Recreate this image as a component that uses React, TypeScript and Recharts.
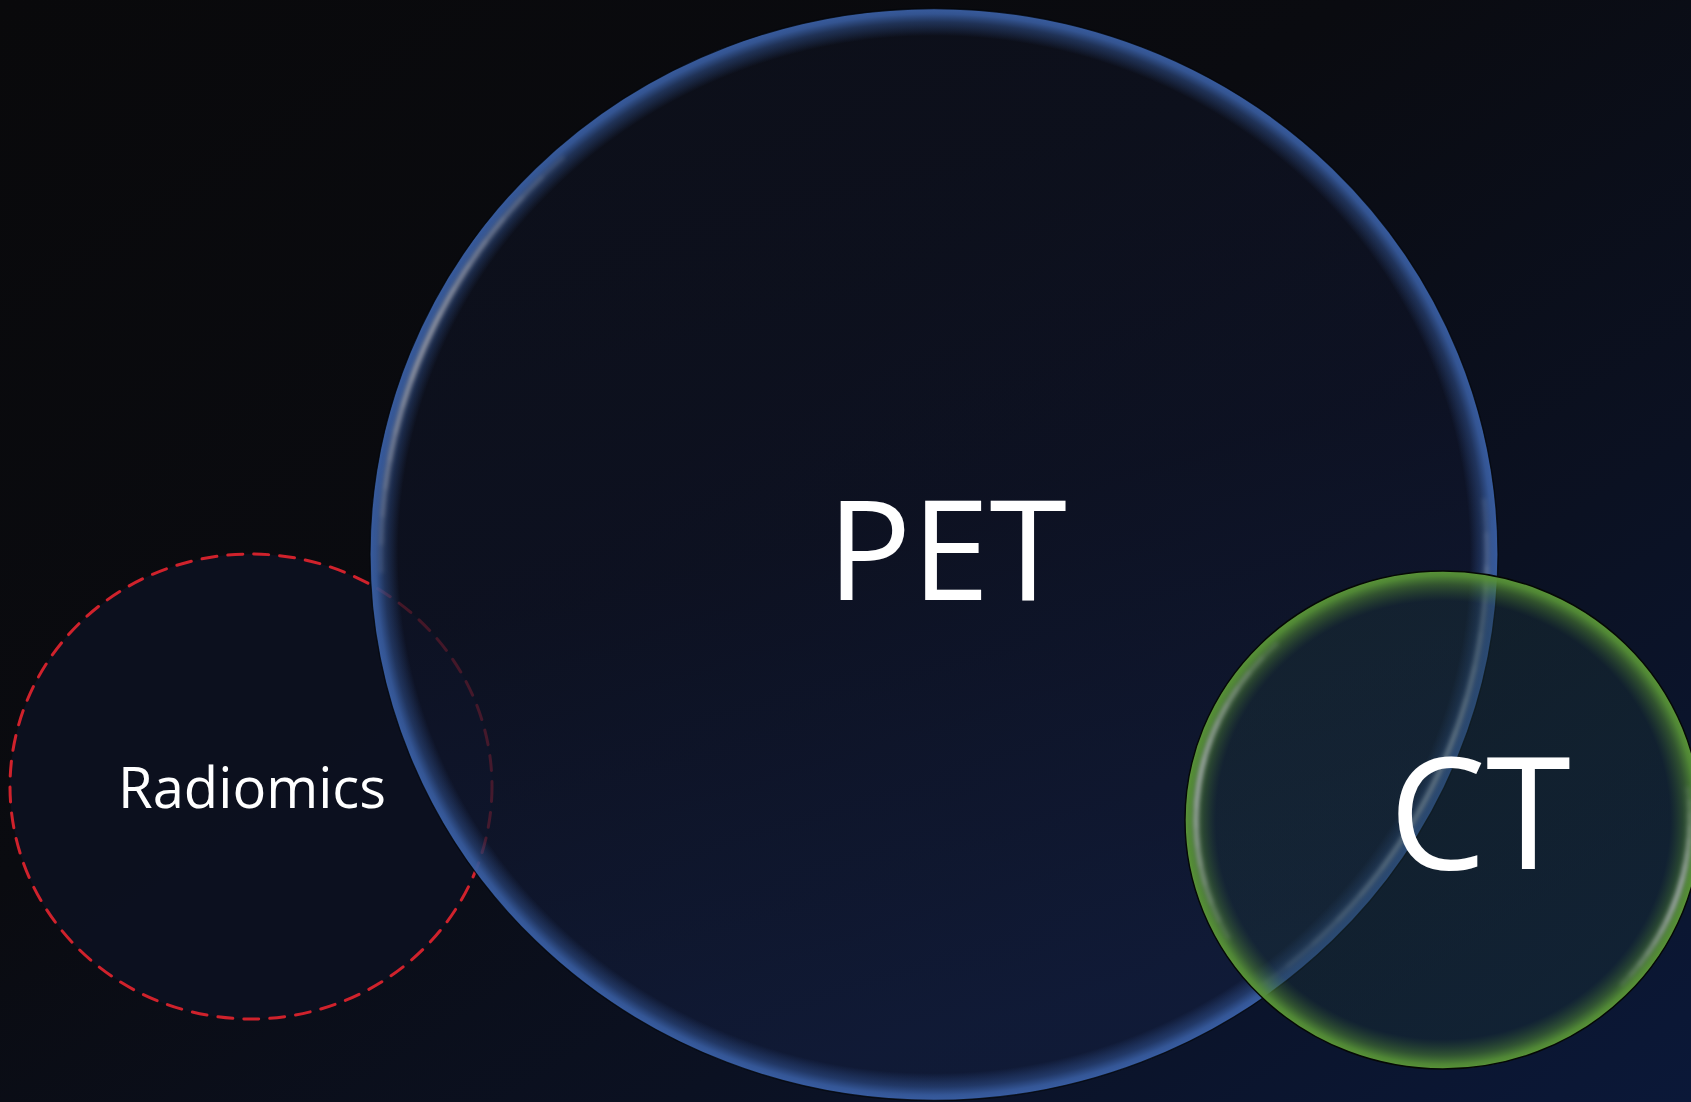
import React from 'react';
import { ComposedChart, Scatter, XAxis, YAxis } from 'recharts';

// ---- data (in chart units: x 0..1691, y 0..1102, y downward) ----
const X_DOMAIN: [number, number] = [0, 1691];
const Y_DOMAIN: [number, number] = [0, 1102];

const radiomicsSet = [{ name: 'Radiomics', x: 251, y: 786.5, rx: 241, ry: 232.5 }];
const petSet = [{ name: 'PET', x: 934, y: 554.5, rx: 564, ry: 546 }];
const ctSet = [{ name: 'CT', x: 1443, y: 820, rx: 258, ry: 249 }];

const setLabels = [
  { name: 'PET', x: 947, y: 600 },
  { name: 'Radiomics', x: 252, y: 808 },
  { name: 'CT', x: 1480, y: 869 },
];

// ---- layout / style ----
const W = 1691;
const H = 1102;
const SX = W / (X_DOMAIN[1] - X_DOMAIN[0]);
const SY = H / (Y_DOMAIN[1] - Y_DOMAIN[0]);
const FONT = '"Open Sans", "Noto Sans", sans-serif';

const labelStyle: Record<string, { fontSize: number; length: number }> = {
  PET: { fontSize: 140, length: 240 },
  Radiomics: { fontSize: 56, length: 268 },
  CT: { fontSize: 155, length: 182 },
};

const arcPath = (cx: number, cy: number, a: number, b: number, t1: number, t2: number) => {
  const r = Math.PI / 180;
  const x1 = cx + a * Math.cos(t1 * r);
  const y1 = cy + b * Math.sin(t1 * r);
  const x2 = cx + a * Math.cos(t2 * r);
  const y2 = cy + b * Math.sin(t2 * r);
  const large = Math.abs(t2 - t1) > 180 ? 1 : 0;
  return `M${x1},${y1} A${a},${b} 0 ${large} 1 ${x2},${y2}`;
};

const HL_LAYERS = [1, 0.88, 0.76, 0.64, 0.52, 0.4, 0.28, 0.16];

const Highlight = ({ cx, cy, a, b, t1, t2, color, width, op }: any) => {
  const mid = (t1 + t2) / 2;
  const half = (t2 - t1) / 2;
  return (
    <g filter="url(#hlBlur)">
      {HL_LAYERS.map((f, i) => (
        <path
          key={i}
          d={arcPath(cx, cy, a, b, mid - half * f, mid + half * f)}
          fill="none"
          stroke={color}
          strokeWidth={width}
          strokeOpacity={op}
          strokeLinecap="butt"
        />
      ))}
    </g>
  );
};

const RadiomicsShape = (props: any) => {
  const { cx, cy, payload } = props;
  const a = payload.rx * SX;
  const b = payload.ry * SY;
  return (
    <g>
      <ellipse cx={cx} cy={cy} rx={a} ry={b} fill="#0d1120" fillOpacity={0.95} />
      <ellipse
        cx={cx}
        cy={cy}
        rx={a}
        ry={b}
        fill="none"
        stroke="#d0222c"
        strokeWidth={3}
        strokeDasharray="15 11"
        strokeLinecap="round"
      />
    </g>
  );
};

const PetShape = (props: any) => {
  const { cx, cy, payload } = props;
  const a = payload.rx * SX;
  const b = payload.ry * SY;
  return (
    <g>
      <defs>
        <linearGradient id="petBody" x1="0" y1="0" x2="0.25" y2="1">
          <stop offset="0" stopColor="#0e111c" />
          <stop offset="0.55" stopColor="#0e1326" />
          <stop offset="1" stopColor="#121d3c" />
        </linearGradient>
        <radialGradient id="petRing" cx="50%" cy="50%" r="50%">
          <stop offset="0" stopColor="#3d66b0" stopOpacity={0} />
          <stop offset="0.95" stopColor="#3d66b0" stopOpacity={0} />
          <stop offset="0.975" stopColor="#3a62aa" stopOpacity={0.42} />
          <stop offset="0.99" stopColor="#3d65ae" stopOpacity={0.8} />
          <stop offset="1" stopColor="#3e66b0" stopOpacity={0.88} />
        </radialGradient>
        <filter id="hlBlur" x="-10%" y="-10%" width="120%" height="120%">
          <feGaussianBlur stdDeviation="2.2" />
        </filter>
      </defs>
      <ellipse cx={cx} cy={cy} rx={a} ry={b} fill="url(#petBody)" fillOpacity={0.72} />
      <ellipse cx={cx} cy={cy} rx={a} ry={b} fill="url(#petRing)" stroke="#04060a" strokeWidth={1.3} strokeOpacity={0.8} />
      <Highlight cx={cx} cy={cy} a={a - 11} b={b - 11} t1={178} t2={228} color="#d8d2c4" width={5} op={0.11} />
      <Highlight cx={cx} cy={cy} a={a - 11} b={b - 11} t1={-6} t2={54} color="#d4dde0" width={5} op={0.11} />
    </g>
  );
};

const CtShape = (props: any) => {
  const { cx, cy, payload } = props;
  const a = payload.rx * SX;
  const b = payload.ry * SY;
  return (
    <g>
      <defs>
        <radialGradient id="ctRing" cx="50%" cy="50%" r="50%">
          <stop offset="0" stopColor="#1a3236" stopOpacity={0.42} />
          <stop offset="0.88" stopColor="#1a3236" stopOpacity={0.42} />
          <stop offset="0.945" stopColor="#4a7d33" stopOpacity={0.6} />
          <stop offset="0.98" stopColor="#558f36" stopOpacity={0.92} />
          <stop offset="1" stopColor="#5a9438" stopOpacity={1} />
        </radialGradient>
      </defs>
      <ellipse cx={cx} cy={cy} rx={a} ry={b} fill="url(#ctRing)" stroke="#050805" strokeWidth={1.4} />
      <Highlight cx={cx} cy={cy} a={a - 11} b={b - 11} t1={150} t2={228} color="#dcd6ee" width={5} op={0.11} />
      <Highlight cx={cx} cy={cy} a={a - 11} b={b - 11} t1={-8} t2={44} color="#dcd6ee" width={5} op={0.11} />
    </g>
  );
};

const LabelShape = (props: any) => {
  const { cx, cy, payload } = props;
  const st = labelStyle[payload.name];
  return (
    <text
      x={cx}
      y={cy}
      textAnchor="middle"
      fill="#ffffff"
      fontFamily={FONT}
      fontSize={st.fontSize}
      textLength={st.length}
      lengthAdjust="spacingAndGlyphs"
    >
      {payload.name}
    </text>
  );
};

export default function App() {
  return (
    <div
      style={{
        position: 'absolute',
        left: 0,
        top: 0,
        width: W,
        height: H,
        overflow: 'hidden',
        background: 'linear-gradient(to bottom right, #09090b 0%, #0a0b10 40%, #0b1122 70%, #0b1838 100%)',
      }}
    >
      <ComposedChart width={W} height={H} margin={{ top: 0, right: 0, bottom: 0, left: 0 }}>
        <XAxis type="number" dataKey="x" domain={X_DOMAIN} hide allowDataOverflow />
        <YAxis type="number" dataKey="y" domain={Y_DOMAIN} reversed hide allowDataOverflow />
        <Scatter data={radiomicsSet} shape={RadiomicsShape} isAnimationActive={false} />
        <Scatter data={petSet} shape={PetShape} isAnimationActive={false} />
        <Scatter data={ctSet} shape={CtShape} isAnimationActive={false} />
        <Scatter data={setLabels} shape={LabelShape} isAnimationActive={false} />
      </ComposedChart>
    </div>
  );
}
